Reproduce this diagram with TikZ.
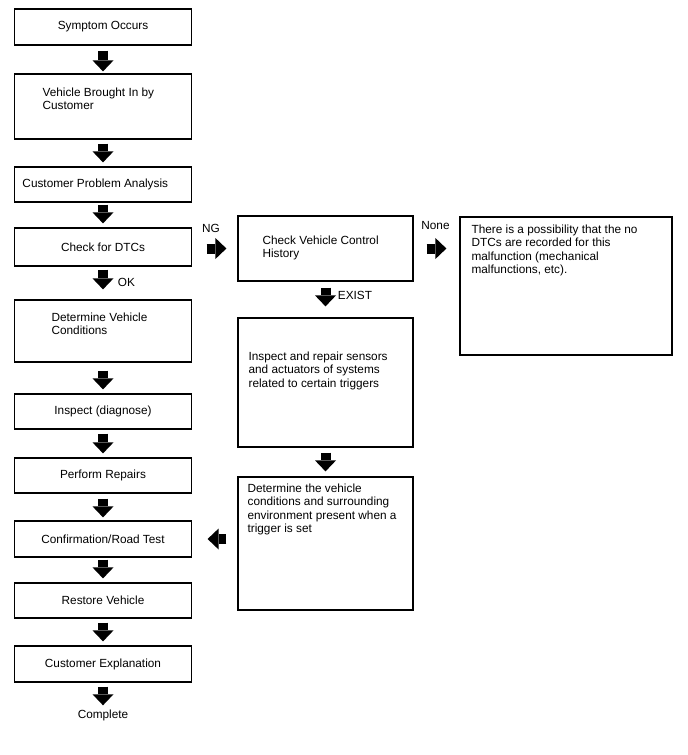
\documentclass[tikz,border=0pt]{standalone}
\usepackage{fontspec}
\setmainfont{Liberation Sans}
\usetikzlibrary{arrows.meta}

\begin{document}
\begin{tikzpicture}[
    x=1bp, y=-1bp,
    font=\fontsize{11.8bp}{13.6bp}\selectfont,
    box/.style={draw, line width=1.2bp, minimum width=177bp, minimum height=35bp, inner sep=0pt},
    txt/.style={anchor=north west, inner sep=0pt, align=left},
    lbl/.style={inner sep=0pt},
    blk/.style={line width=10bp, -{Triangle[length=11bp 0 0, width=21bp 0 0, line width=0pt]}, shorten <=4bp, shorten >=4bp}
]
    \useasboundingbox (0,0) rectangle (688,755);

    % main column
    \node[box, minimum height=36bp] (symptom) at (103,27) {Symptom Occurs};
    \node[box, minimum height=65bp] (vehicle) at (103,106.5) {};
    \node[txt] (vehicletxt) at ([shift={(28.5,14)}]vehicle.north west) {Vehicle Brought In by\\Customer};
    \node[box, text width=161bp, align=flush left, inner xsep=8bp] (analysis) at (103,184.5) {Customer Problem Analysis};
    \node[box, minimum height=38bp] (dtc) at (103,247) {Check for DTCs};
    \node[box, minimum height=62bp] (conditions) at (103,331) {};
    \node[txt] (conditionstxt) at ([shift={(37.5,13)}]conditions.north west) {Determine Vehicle\\Conditions};
    \node[box] (inspect) at (103,411.5) {Inspect (diagnose)};
    \node[box] (repairs) at (103,475.5) {Perform Repairs};
    \node[box, minimum height=36bp] (confirm) at (103,539) {Confirmation/Road Test};
    \node[box] (restore) at (103,600.5) {Restore Vehicle};
    \node[box, minimum height=36bp] (explain) at (103,664) {Customer Explanation};
    \node[lbl] (complete) at (103,715) {Complete};

    % side branch
    \node[box, minimum width=175bp, minimum height=65bp] (history) at (325.5,248.5) {};
    \node[txt] (historytxt) at ([shift={(25,20)}]history.north west) {Check Vehicle Control\\History};
    \node[box, minimum width=212bp, minimum height=138bp] (nodtc) at (566,286) {};
    \node[txt] (nodtctxt) at ([shift={(12,8)}]nodtc.north west) {There is a possibility that the no\\DTCs are recorded for this\\malfunction (mechanical\\malfunctions, etc).};
    \node[box, minimum width=175bp, minimum height=129bp] (sensors) at (325.5,382.5) {};
    \node[txt] (sensorstxt) at ([shift={(11,34)}]sensors.north west) {Inspect and repair sensors\\and actuators of systems\\related to certain triggers};
    \node[box, minimum width=175bp, minimum height=133bp] (trigger) at (325.5,543.5) {};
    \node[txt] (triggertxt) at ([shift={(10,7)}]trigger.north west) {Determine the vehicle\\conditions and surrounding\\environment present when a\\trigger is set};

    % labels
    \node[lbl] (ng) at (211,228) {NG};
    \node[lbl] (none) at (435.5,225.5) {None};
    \node[lbl] (ok) at (126.5,282) {OK};
    \node[lbl] (exist) at (355,295) {EXIST};

    % arrows
    \draw[blk, shorten <=5bp, shorten >=2bp] (symptom) -- (vehicle);
    \draw[blk] (vehicle) -- (analysis);
    \draw[blk, shorten <=2bp] (analysis) -- (dtc);
    \draw[blk, shorten <=3bp, shorten >=10bp] (dtc) -- (conditions);
    \draw[blk, shorten <=8bp] (conditions) -- (inspect);
    \draw[blk] (inspect) -- (repairs);
    \draw[blk, shorten <=5bp, shorten >=3bp] (repairs) -- (confirm);
    \draw[blk, shorten <=2bp] (confirm) -- (restore);
    \draw[blk] (restore) -- (explain);
    \draw[blk] (explain) -- (complete);
    \draw[blk, shorten <=14.5bp, shorten >=11bp] (dtc.east |- history) -- (history.west);
    \draw[blk, shorten <=13bp, shorten >=13bp] (history.east) -- (history.east -| nodtc.west);
    \draw[blk, shorten <=6bp, shorten >=11bp] (history) -- (sensors);
    \draw[blk, shorten <=5bp, shorten >=5bp] (sensors) -- (trigger);
    \draw[blk, shorten <=11bp, shorten >=15.5bp] (trigger.west |- confirm) -- (confirm.east);
\end{tikzpicture}
\end{document}
